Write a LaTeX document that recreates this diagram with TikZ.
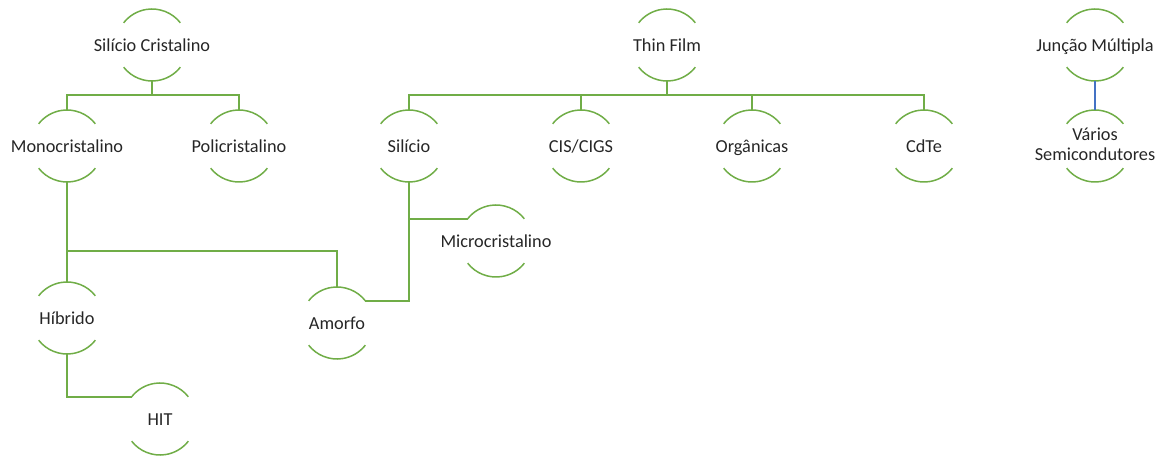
\documentclass[tikz,border=0pt]{standalone}
\usepackage{fontspec}
\setmainfont{Carlito}
\definecolor{lgreen}{RGB}{112,173,71}
\definecolor{lblue}{RGB}{68,114,196}
\definecolor{txt}{RGB}{38,38,38}
\newcommand\lbl[1]{\makebox[0pt]{\vphantom{Íg}#1}}
\newcommand\lbltwo[2]{\makebox[0pt]{\begin{tabular}{@{}c@{}}#1\\[-1pt]#2\end{tabular}}}
\tikzset{
  blob/.style={circle, minimum size=72pt, inner sep=0pt, outer sep=0pt,
    text=txt, font=\fontsize{18.3}{21}\selectfont},
  arcline/.style={draw=lgreen, line width=1.5pt},
  conn/.style={draw=lgreen, line width=1.5pt},
  bconn/.style={draw=lblue, line width=1.4pt}
}
\begin{document}
\begin{tikzpicture}[x=1pt,y=1pt]
\useasboundingbox (0,0) rectangle (1161,455);
% top row
\node[blob] (sc) at (152,410) {\lbl{Silício Cristalino}};
\node[blob] (tf) at (667,410) {\lbl{Thin Film}};
\node[blob] (jm) at (1095,410) {\lbl{Junção Múltipla}};
% second row
\node[blob] (mono) at (67,309) {\lbl{Monocristalino}};
\node[blob] (poli) at (239,309) {\lbl{Policristalino}};
\node[blob] (sil) at (409,309) {\lbl{Silício}};
\node[blob] (cis) at (581,309) {\lbl{CIS/CIGS}};
\node[blob] (org) at (752,309) {\lbl{Orgânicas}};
\node[blob] (cdte) at (924,309) {\lbl{CdTe}};
\node[blob] (var) at (1095,309) {\lbltwo{Vários}{Semicondutores}};
% lower
\node[blob] (micro) at (496,214) {\lbl{Microcristalino}};
\node[blob] (hib) at (67,137) {\lbl{Híbrido}};
\node[blob] (amo) at (337,132) {\lbl{Amorfo}};
\node[blob] (hit) at (160,36) {\lbl{HIT}};
% arcs
\foreach \n in {sc,tf,jm,mono,poli,sil,cis,org,cdte,var,micro,hib,amo,hit}{
  \draw[arcline] (\n.38) arc[start angle=38,end angle=142,radius=36pt];
  \draw[arcline] (\n.218) arc[start angle=218,end angle=322,radius=36pt];
}
% coordinates for bus lines
\coordinate (scbus) at ([yshift=-14pt]sc.south);
\coordinate (tfbus) at ([yshift=-14pt]tf.south);
\coordinate (monobus) at ([yshift=-69pt]mono.south);
% connectors
\draw[conn] (sc.south) -- (scbus) -| (mono.north);
\draw[conn] (scbus) -| (poli.north);
\draw[conn] (tf.south) -- (tfbus) -| (sil.north);
\draw[conn] (tfbus) -| (cis.north);
\draw[conn] (tfbus) -| (org.north);
\draw[conn] (tfbus) -| (cdte.north);
\draw[bconn] (jm.south) -- (var.north);
\draw[conn] (mono.south) -- (hib.north);
\draw[conn] (monobus) -| (amo.north);
\draw[conn] (sil.south) |- (amo.38);
\draw[conn] (sil.south) |- (micro.142);
\draw[conn] (hib.south) |- (hit.142);
\end{tikzpicture}
\end{document}
